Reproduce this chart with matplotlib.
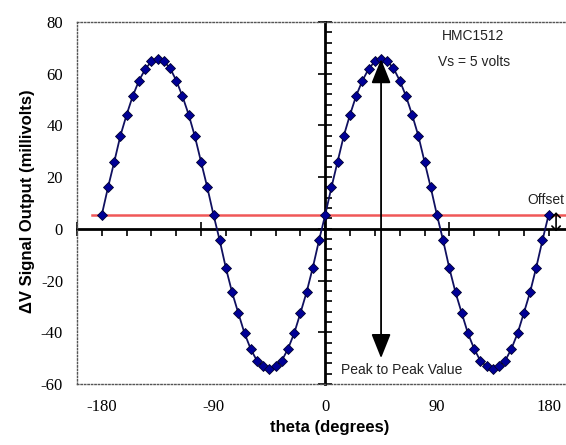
import matplotlib.pyplot as plt
from matplotlib.ticker import MultipleLocator

# Sensor output vs. field angle

theta_deg = [-180, -175, -170, -165, -160, -155, -150, -145, -140, -135,
             -130, -125, -120, -115, -110, -105, -100, -95, -90, -85,
             -80, -75, -70, -65, -60, -55, -50, -45, -40, -35,
             -30, -25, -20, -15, -10, -5, 0, 5, 10, 15,
             20, 25, 30, 35, 40, 45, 50, 55, 60, 65,
             70, 75, 80, 85, 90, 95, 100, 105, 110, 115,
             120, 125, 130, 135, 140, 145, 150, 155, 160, 165,
             170, 175, 180]
signal_mv = [5.4, 16.0, 25.8, 36.0, 44.1, 51.4, 57.3, 61.7, 64.7, 65.6,
             64.7, 62.1, 57.3, 51.2, 44.1, 35.7, 25.8, 16.0, 5.4, -4.5,
             -15.2, -24.6, -32.6, -40.4, -46.5, -51.0, -53.2, -54.3, -53.0, -51.0,
             -46.4, -40.4, -32.6, -24.5, -15.0, -4.5, 5.4, 16.0, 26.0, 36.0,
             44.1, 51.5, 57.3, 61.8, 64.7, 65.6, 64.7, 62.1, 57.3, 51.4,
             44.1, 36.0, 26.0, 16.0, 5.4, -4.5, -15.2, -24.6, -32.6, -40.4,
             -46.4, -51.0, -53.2, -54.3, -53.0, -51.0, -46.4, -40.4, -32.6, -24.6,
             -15.0, -4.5, 5.4]
offset_mv = 5.4
ptp_arrow = [65.6, -50]

x_labels = [-180, -90, 0, 90, 180]
y_labels = [-60, -40, -20, 0, 20, 40, 60, 80]

plt.rcParams['axes.unicode_minus'] = False

fig = plt.figure(figsize=(5.66, 4.45), dpi=100)
ax = fig.add_axes([0.136, 0.137, 0.864, 0.814])
ax.set_xlim(-200, 194)
ax.set_ylim(-60, 80)

# dotted outer frame, no right side
for s in ['left', 'top', 'bottom']:
    ax.spines[s].set_linestyle((0, (1, 1.5)))
    ax.spines[s].set_color('#555555')
    ax.spines[s].set_linewidth(1.0)
ax.spines['right'].set_visible(False)

ax.set_xticks(x_labels)
ax.set_yticks(y_labels)
ax.tick_params(length=0, labelsize=12)
ax.tick_params(axis='x', pad=11)
ax.tick_params(axis='y', pad=10)
for lab in ax.get_xticklabels() + ax.get_yticklabels():
    lab.set_fontfamily('Liberation Serif')

ax.set_xlabel('theta (degrees)', fontsize=12, fontweight='bold',
              fontfamily='Liberation Sans')
ax.xaxis.set_label_coords(0.517, -0.10)
ax.set_ylabel('ΔV Signal Output (millivolts)', fontsize=12, fontweight='bold',
              fontfamily='Liberation Sans')
ax.yaxis.set_label_coords(-0.086, 0.505)

# crossing axes through the origin
xax = ax.secondary_xaxis(60 / 140)
xax.spines['bottom'].set_linewidth(2)
xax.xaxis.set_major_locator(MultipleLocator(100))
xax.xaxis.set_minor_locator(MultipleLocator(20))
xax.tick_params(which='major', direction='inout', length=10, width=1.2, labelbottom=False)
xax.tick_params(which='minor', direction='out', length=5, width=1.2)
xax.set_xticklabels([])

yax = ax.secondary_yaxis(200 / 394)
for s in yax.spines.values():
    s.set_linewidth(2)
yax.yaxis.set_ticks_position('right')
yax.yaxis.set_major_locator(MultipleLocator(20))
yax.yaxis.set_minor_locator(MultipleLocator(4))
yax.tick_params(which='major', direction='inout', length=10, width=1.2)
yax.tick_params(which='minor', direction='out', length=5, width=1.2)
yax.set_yticklabels([])

ax.axhline(offset_mv, xmin=(-188 + 200) / 394, xmax=1, color='#f05858', lw=1.8, zorder=2)

ax.plot(theta_deg, signal_mv, '-', color='#101060', lw=1.3, zorder=3)
ax.plot(theta_deg, signal_mv, 'D', color='#000096', mec='#000030', mew=0.6,
        ms=5, zorder=4)

ax.annotate('', xy=(45, ptp_arrow[0]), xytext=(45, ptp_arrow[1]),
            arrowprops=dict(arrowstyle='<|-|>,head_length=1.5,head_width=0.6',
                            color='black', lw=1.3, shrinkA=0, shrinkB=0), zorder=5)
ax.annotate('', xy=(186, offset_mv + 1), xytext=(186, -1),
            arrowprops=dict(arrowstyle='<->,head_length=0.3,head_width=0.3',
                            color='black', lw=1.2, shrinkA=0, shrinkB=0), zorder=5)

txt = dict(fontsize=10, color='#222222', fontfamily='Liberation Sans', va='center')
ax.text(93.7, 74.4, 'HMC1512', **txt)
ax.text(91, 64.6, 'Vs = 5 volts', **txt)
ax.text(163, 11.2, 'Offset', **txt)
ax.text(12.6, -54.5, 'Peak to Peak Value', **txt)

fig.savefig('out.png', dpi=100)
